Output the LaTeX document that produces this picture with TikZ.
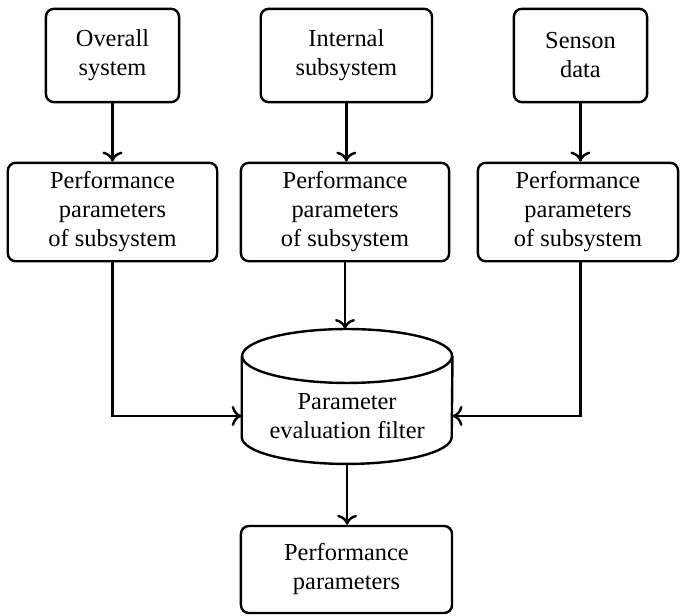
\documentclass[tikz,border=0pt]{standalone}
\usepackage{fontspec}
\setmainfont{Liberation Serif}
\usetikzlibrary{arrows.meta}

\begin{document}
\begin{tikzpicture}[
    >={To[length=5pt,width=10pt]},
    every node/.style={font=\rmfamily\fontsize{12.2}{14.5}\selectfont, align=center},
    box/.style={draw, rounded corners=4pt, line width=1.2pt, inner sep=0pt},
    link/.style={->, line width=1.2pt}
  ]
    \useasboundingbox (0,0) rectangle (11.95,-10.825);

    % Sources
    \node[box, minimum width=2.34cm, minimum height=1.64cm] (overall) at (1.977,-0.975) {Overall\\system};
    \node[box, minimum width=3.01cm, minimum height=1.64cm] (internal) at (6.087,-0.975) {Internal\\subsystem};
    \node[box, minimum width=2.34cm, minimum height=1.64cm] (sensor) at (10.201,-0.975) {Senson\\data};

    % Parameters of each subsystem
    \node[box, minimum width=3.68cm, minimum height=1.73cm] (perf1) at (1.977,-3.726) {Performance\\parameters\\of subsystem};
    \node[box, minimum width=3.66cm, minimum height=1.73cm] (perf2) at (6.063,-3.726) {Performance\\parameters\\of subsystem};
    \node[box, minimum width=3.52cm, minimum height=1.73cm] (perf3) at (10.157,-3.726) {Performance\\parameters\\of subsystem};

    % Filter drawn as a cylinder around its text
    \node[minimum width=3.69cm, inner sep=0pt] (filter) at (6.10,-7.31) {Parameter\\evaluation filter};
    \draw[line width=1.2pt] ([yshift=1.054cm]filter.west) -- ([yshift=-0.369cm]filter.west)
        arc[start angle=180, end angle=360, x radius=1.845cm, y radius=0.474cm]
        -- ([yshift=1.054cm]filter.east);
    \draw[line width=1.2pt] ([yshift=1.054cm]filter.center) ellipse[x radius=1.845cm, y radius=0.474cm];
    \coordinate (filter top) at ([yshift=1.528cm]filter.center);
    \coordinate (filter bottom) at ([yshift=-0.843cm]filter.center);

    % Result
    \node[box, minimum width=3.71cm, minimum height=1.53cm] (result) at (6.089,-10.008) {Performance\\parameters};

    % Connections
    \draw[link] (overall) -- (perf1);
    \draw[link] (internal) -- (internal |- perf2.north);
    \draw[link] (sensor) -- (sensor |- perf3.north);
    \draw[link] (perf2.south) -- (perf2.south |- filter top);
    \draw[link] (perf1.south) |- (filter.west);
    \draw[link] (perf3.south -| sensor) |- (filter.east);
    \draw[link] (filter bottom) -- (filter bottom |- result.north);
\end{tikzpicture}
\end{document}
